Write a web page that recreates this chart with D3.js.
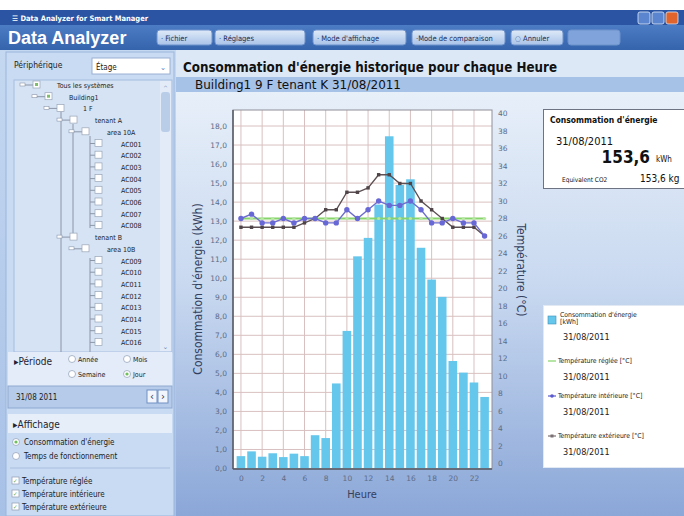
<!DOCTYPE html>
<html><head><meta charset="utf-8">
<script src="https://cdn.jsdelivr.net/npm/d3@7/dist/d3.min.js"></script>
<style>
html,body{margin:0;padding:0;background:#fff;}
svg{display:block;font-family:"DejaVu Sans Condensed","DejaVu Sans",sans-serif;}
</style></head><body>
<svg id="c" width="684" height="516"></svg>
<script>
// ---------- data ----------
const hours = d3.range(0, 24);
const hourTicks = [0,2,4,6,8,10,12,14,16,18,20,22];
const energyKWh = [0.65,0.9,0.62,0.8,0.6,0.78,0.65,1.75,1.6,4.47,7.23,11.15,12.12,13.87,17.46,14.9,15.2,11.6,9.93,9.02,5.65,5.04,4.52,3.76];
const tempSet = [28,28,28,28,28,28,28,28,28,28,28,28,28,28,28,28,28,28,28,28,28,28,28,28];
const tempInt = [28,28.5,27.5,27.5,28,27.5,28,28,27.5,27.5,29,28,29,30,29.5,29.5,30,29,27.5,27.5,28,27.5,27.5,26];
const tempExt = [27,27,27,27,27,27,27.5,28,29,29,31,31,31.5,33,33,32,32,30,29,28,27,27,27,26];
const leftTicks = d3.range(0, 19);
const rightTicks = d3.range(0, 41, 2);
const treeItems = [
  ["Tous les systèmes",0],["Building1",1],["1 F",2],["tenant A",3],["area 10A",4],
  ["AC001",5],["AC002",5],["AC003",5],["AC004",5],["AC005",5],["AC006",5],["AC007",5],["AC008",5],
  ["tenant B",3],["area 10B",4],
  ["AC009",5],["AC010",5],["AC011",5],["AC012",5],["AC013",5],["AC014",5],["AC015",5],["AC016",5]
];
const toolButtons = [["· Fichier",157,55],["·          Réglages",215,90],["· Mode d'affichage",313,93],["·Mode de comparaison",412,93],["◌ Annuler",511,52],["",568,52]];
const legendItems = [
  ["Consommation d'énergie","[kWh]","31/08/2011","bar"],
  ["Température réglée [°C]","","31/08/2011","set"],
  ["Température intérieure [°C]","","31/08/2011","int"],
  ["Température extérieure [°C]","","31/08/2011","ext"]
];

const svg = d3.select("#c");
const defs = svg.append("defs");
const g1 = defs.append("linearGradient").attr("id","bg").attr("x1",0).attr("y1",0).attr("x2",0).attr("y2",1);
g1.append("stop").attr("offset","0%").attr("stop-color","#e7eff9");
g1.append("stop").attr("offset","45%").attr("stop-color","#c9d9f0");
g1.append("stop").attr("offset","100%").attr("stop-color","#8ba7d8");
const g2 = defs.append("linearGradient").attr("id","tb").attr("x1",0).attr("y1",0).attr("x2",0).attr("y2",1);
g2.append("stop").attr("offset","0%").attr("stop-color","#4c7cc4");
g2.append("stop").attr("offset","100%").attr("stop-color","#3564ad");
const g3 = defs.append("linearGradient").attr("id","btn").attr("x1",0).attr("y1",0).attr("x2",0).attr("y2",1);
g3.append("stop").attr("offset","0%").attr("stop-color","#dfeaf8");
g3.append("stop").attr("offset","100%").attr("stop-color","#a9c3e8");
const g4 = defs.append("linearGradient").attr("id","lp").attr("x1",0).attr("y1",0).attr("x2",0).attr("y2",1);
g4.append("stop").attr("offset","0%").attr("stop-color","#c4d8f1");
g4.append("stop").attr("offset","100%").attr("stop-color","#a7c0e6");

// ---------- window chrome ----------
svg.append("rect").attr("x",0).attr("y",10).attr("width",684).attr("height",15).attr("fill","#2b55a3");
svg.append("text").attr("x",12).attr("y",21).attr("fill","#fff").attr("font-size",7.5).attr("font-weight","bold").text("☰ Data Analyzer for Smart Manager");
[[638,"#5b86cf"],[652,"#5b86cf"],[666,"#e0642c"]].forEach(([x,c])=>{
  svg.append("rect").attr("x",x).attr("y",12).attr("width",12).attr("height",12).attr("rx",2).attr("fill",c).attr("stroke","#dfe8f6").attr("stroke-width",0.8);
});
svg.append("rect").attr("x",0).attr("y",25).attr("width",684).attr("height",25).attr("fill","url(#tb)");
svg.append("text").attr("x",8).attr("y",44).attr("fill","#fff").attr("font-size",18).attr("font-weight","bold")
  .attr("font-family","Liberation Sans, Arial, sans-serif").text("Data Analyzer");
toolButtons.forEach(([t,x,w],i)=>{
  svg.append("rect").attr("x",x).attr("y",30).attr("width",w).attr("height",15).attr("rx",3)
    .attr("fill", i===5 ? "#7fa3da" : "url(#btn)").attr("stroke","#6f93cc");
  svg.append("text").attr("x",x+4).attr("y",41).attr("font-size",7.5).attr("fill","#1c2d55").text(t);
});

// ---------- left panel ----------
svg.append("rect").attr("x",0).attr("y",50).attr("width",176).attr("height",466).attr("fill","url(#lp)");
svg.append("rect").attr("x",6).attr("y",52).attr("width",168).attr("height",464).attr("fill","#c9dbf2").attr("stroke","#9bb5dc");
svg.append("text").attr("x",14).attr("y",68).attr("font-size",8.5).attr("fill","#222").text("Périphérique");
svg.append("rect").attr("x",92).attr("y",58).attr("width",78).attr("height",16).attr("fill","#fff").attr("stroke","#9ab0d4");
svg.append("text").attr("x",96).attr("y",70).attr("font-size",8).attr("fill","#222").text("Étage");
svg.append("text").attr("x",163).attr("y",70).attr("font-size",8).attr("fill","#6a86b8").attr("text-anchor","middle").text("⌄");
svg.append("rect").attr("x",14).attr("y",80).attr("width",158).attr("height",272).attr("fill","#d5e3f5").attr("stroke","#a6bddf");
svg.append("rect").attr("x",160).attr("y",81).attr("width",11).attr("height",270).attr("fill","#e2ebf7");
svg.append("rect").attr("x",161).attr("y",92).attr("width",9).attr("height",40).attr("rx",3).attr("fill","#b9cde9");
svg.append("text").attr("x",165.5).attr("y",90).attr("font-size",6).attr("text-anchor","middle").attr("fill","#6a86b8").text("^");
svg.append("text").attr("x",165.5).attr("y",349).attr("font-size",7).attr("text-anchor","middle").attr("fill","#6a86b8").text("⌄");
const tree = svg.append("g");
const boxX = [33,45,57,70,82,95];
const textX = [57,69,83,95,107,121];
// tree connectors
tree.append("line").attr("x1",61).attr("x2",61).attr("y1",112).attr("y2",352).attr("stroke","#8c96a8");
tree.append("line").attr("x1",73).attr("x2",73).attr("y1",124).attr("y2",240).attr("stroke","#8c96a8");
tree.append("line").attr("x1",90).attr("x2",90).attr("y1",136).attr("y2",228).attr("stroke","#8c96a8");
tree.append("line").attr("x1",90).attr("x2",90).attr("y1",258).attr("y2",352).attr("stroke","#8c96a8");
treeItems.forEach(([t,l],i)=>{
  const y = 85 + i*11.7;
  const bx = boxX[l];
  if (l<5) {
    tree.append("line").attr("x1",bx-11).attr("x2",bx).attr("y1",y).attr("y2",y).attr("stroke","#8c96a8");
    tree.append("rect").attr("x",bx-13).attr("y",y-2).attr("width",5).attr("height",3).attr("fill","#fff").attr("stroke","#8c96a8").attr("stroke-width",0.6);
  } else {
    tree.append("line").attr("x1",90).attr("x2",bx).attr("y1",y).attr("y2",y).attr("stroke","#8c96a8");
  }
  tree.append("rect").attr("x",bx).attr("y",y-4).attr("width",7).attr("height",7).attr("fill","#fff").attr("stroke","#9aa4b4").attr("stroke-width",0.7);
  if (l<2) tree.append("rect").attr("x",bx+2).attr("y",y-2).attr("width",3).attr("height",3).attr("fill","#7fbf6a");
  tree.append("text").attr("x",textX[l]).attr("y",y+3).attr("font-size",7).attr("fill","#222").text(t);
});
// period
svg.append("rect").attr("x",8).attr("y",352).attr("width",164).attr("height",34).attr("fill","#e3ecf8");
svg.append("text").attr("x",14).attr("y",365).attr("font-size",10).attr("fill","#223").text("▸Période");
[["Année",72,362,false],["Mois",127,362,false],["Semaine",72,377,false],["Jour",127,377,true]].forEach(([t,x,y,on])=>{
  svg.append("circle").attr("cx",x).attr("cy",y-3).attr("r",3.5).attr("fill","#fff").attr("stroke","#8d9bb3").attr("stroke-width",0.7);
  if(on) svg.append("circle").attr("cx",x).attr("cy",y-3).attr("r",1.6).attr("fill","#6fbf5a");
  svg.append("text").attr("x",x+6).attr("y",y).attr("font-size",7).attr("fill","#222").text(t);
});
svg.append("rect").attr("x",8).attr("y",386).attr("width",164).attr("height",22).attr("fill","#b6cbe9").attr("stroke","#8fa9d2");
svg.append("text").attr("x",16).attr("y",400).attr("font-size",8).attr("fill","#222").text("31/08 2011");
[[147,"‹"],[158,"›"]].forEach(([x,t])=>{
  svg.append("rect").attr("x",x).attr("y",390).attr("width",10).attr("height",13).attr("fill","#f2f6fc").attr("stroke","#6f8fc4");
  svg.append("text").attr("x",x+5).attr("y",400).attr("font-size",11).attr("text-anchor","middle").attr("fill","#335").text(t);
});
svg.append("rect").attr("x",8).attr("y",414).attr("width",164).attr("height",19).attr("fill","#e6eef9");
svg.append("text").attr("x",13).attr("y",428).attr("font-size",10).attr("fill","#223").text("▸Affichage");
[["Consommation d'énergie",445,true],["Temps de fonctionnement",459,false]].forEach(([t,y,on])=>{
  svg.append("circle").attr("cx",16).attr("cy",y-3).attr("r",3.5).attr("fill","#fff").attr("stroke","#8d9bb3").attr("stroke-width",0.7);
  if(on) svg.append("circle").attr("cx",16).attr("cy",y-3).attr("r",1.6).attr("fill","#6fbf5a");
  svg.append("text").attr("x",24).attr("y",y).attr("font-size",8).attr("fill","#222").text(t);
});
svg.append("line").attr("x1",10).attr("x2",170).attr("y1",468).attr("y2",468).attr("stroke","#a9bedf");
["Température réglée","Température intérieure","Température extérieure"].forEach((t,i)=>{
  const y = 484 + i*13;
  svg.append("rect").attr("x",12).attr("y",y-7).attr("width",7).attr("height",7).attr("fill","#fff").attr("stroke","#8d9bb3").attr("stroke-width",0.7);
  svg.append("text").attr("x",13).attr("y",y-1).attr("font-size",6).attr("fill","#5aa74a").text("✓");
  svg.append("text").attr("x",22).attr("y",y).attr("font-size",8).attr("fill","#222").text(t);
});

// ---------- main area ----------
svg.append("rect").attr("x",176).attr("y",50).attr("width",508).attr("height",27).attr("fill","#dce8f6");
svg.append("text").attr("x",183).attr("y",72).attr("font-size",14).attr("font-weight","bold").attr("fill","#111")
  .attr("textLength",374).attr("lengthAdjust","spacingAndGlyphs").text("Consommation d'énergie historique pour chaque Heure");
svg.append("rect").attr("x",176).attr("y",77).attr("width",508).attr("height",15).attr("fill","#a7c2e7");
svg.append("text").attr("x",195).attr("y",89).attr("font-size",12).attr("fill","#111")
  .attr("textLength",206).attr("lengthAdjust","spacingAndGlyphs").text("Building1 9 F tenant K  31/08/2011");
svg.append("rect").attr("x",176).attr("y",92).attr("width",508).attr("height",424).attr("fill","url(#bg)");

// scales
const x = d3.scaleLinear().domain([-0.75, 23.7]).range([233, 492]);
const yL = d3.scaleLinear().domain([0, 18]).range([468.5, 126]);
const yR = d3.scaleLinear().domain([0, 40]).range([463.5, 113.5]);
const plotTop = 110, plotBottom = 469, plotLeft = 233, plotRight = 492;

svg.append("rect").attr("x",plotLeft).attr("y",plotTop).attr("width",plotRight-plotLeft).attr("height",plotBottom-plotTop).attr("fill","#fff");
const grid = svg.append("g").attr("stroke","#d9c0c0").attr("stroke-width",1);
leftTicks.forEach(v=>grid.append("line").attr("x1",plotLeft).attr("x2",plotRight).attr("y1",yL(v)).attr("y2",yL(v)));
hourTicks.forEach(v=>grid.append("line").attr("x1",x(v)).attr("x2",x(v)).attr("y1",plotTop).attr("y2",plotBottom));

// bars
svg.append("g").selectAll("rect").data(energyKWh).join("rect")
  .attr("x",(d,i)=>x(hours[i])-4.3).attr("width",8.6)
  .attr("y",d=>yL(d)).attr("height",d=>yL(0)-yL(d)).attr("fill","#66c7ec");

// lines
const line = arr => d3.line().x((d,i)=>x(hours[i])).y(d=>yR(d))(arr);
svg.append("path").attr("d",line(tempSet)).attr("fill","none").attr("stroke","#86d46a").attr("stroke-width",2.2);
svg.append("g").selectAll("circle").data(tempSet).join("circle").attr("cx",(d,i)=>x(hours[i])).attr("cy",d=>yR(d)).attr("r",1.6).attr("fill","#b7e6a4");
svg.append("path").attr("d",line(tempExt)).attr("fill","none").attr("stroke","#5b4f52").attr("stroke-width",1.3);
svg.append("g").selectAll("rect").data(tempExt).join("rect").attr("x",(d,i)=>x(hours[i])-1.7).attr("y",d=>yR(d)-1.7).attr("width",3.4).attr("height",3.4).attr("fill","#4e4347");
svg.append("path").attr("d",line(tempInt)).attr("fill","none").attr("stroke","#6d6dce").attr("stroke-width",1.4);
svg.append("g").selectAll("circle.i").data(tempInt).join("circle").attr("cx",(d,i)=>x(hours[i])).attr("cy",d=>yR(d)).attr("r",2.7).attr("fill","#6767d6");

// frame
svg.append("rect").attr("x",plotLeft).attr("y",plotTop).attr("width",plotRight-plotLeft).attr("height",plotBottom-plotTop)
  .attr("fill","none").attr("stroke","#8f8f98").attr("stroke-width",1);
svg.append("line").attr("x1",plotLeft).attr("x2",plotLeft).attr("y1",plotTop).attr("y2",plotBottom).attr("stroke","#555a66").attr("stroke-width",1.5);
svg.append("line").attr("x1",plotLeft).attr("x2",plotRight).attr("y1",plotBottom).attr("y2",plotBottom).attr("stroke","#555a66").attr("stroke-width",1.5);

// axes
const fmt = d => d.toFixed(1).replace(".", ",");
const axL = svg.append("g").attr("transform",`translate(${plotLeft-2},0)`)
  .call(d3.axisLeft(yL).tickValues(leftTicks).tickFormat(fmt).tickSize(0).tickPadding(4));
const axR = svg.append("g").attr("transform",`translate(${plotRight+3},0)`)
  .call(d3.axisRight(yR).tickValues(rightTicks).tickFormat(d3.format("d")).tickSize(0).tickPadding(3));
const axB = svg.append("g").attr("transform",`translate(0,${plotBottom+3})`)
  .call(d3.axisBottom(x).tickValues(hourTicks).tickFormat(d3.format("d")).tickSize(0).tickPadding(4));
[axL,axR,axB].forEach(a=>{
  a.select(".domain").remove();
  a.selectAll("text").attr("font-size",7.5).attr("fill","#5d6c86").attr("font-family","DejaVu Sans, sans-serif");
});

svg.append("text").attr("transform","translate(202,289) rotate(-90)").attr("text-anchor","middle")
  .attr("font-size",12).attr("fill","#33405e").text("Consommation d'énergie (kWh)");
svg.append("text").attr("transform","translate(517,270) rotate(90)").attr("text-anchor","middle")
  .attr("font-size",12).attr("fill","#33405e").text("Température (°C)");
svg.append("text").attr("x",362).attr("y",498).attr("text-anchor","middle").attr("font-size",11).attr("fill","#33405e").text("Heure");

// info box
svg.append("rect").attr("x",543.5).attr("y",109.5).attr("width",150).attr("height",79).attr("fill","#fff").attr("stroke","#6d7382");
svg.append("text").attr("x",550).attr("y",123).attr("font-size",8.5).attr("font-weight","bold").attr("fill","#111").text("Consommation d'énergie");
svg.append("text").attr("x",556).attr("y",145).attr("font-size",11).attr("fill","#111").text("31/08/2011");
svg.append("text").attr("x",650).attr("y",163).attr("text-anchor","end").attr("font-size",17).attr("font-weight","bold").attr("fill","#111").text("153,6");
svg.append("text").attr("x",656).attr("y",162).attr("font-size",8).attr("fill","#111").text("kWh");
svg.append("text").attr("x",562).attr("y",182).attr("font-size",6.5).attr("fill","#111").text("Equivalent CO2");
svg.append("text").attr("x",640).attr("y",182).attr("font-size",10).attr("fill","#111").text("153,6 kg");

// legend box
svg.append("rect").attr("x",543.5).attr("y",305.5).attr("width",150).attr("height",162).attr("fill","#fff").attr("stroke","#e3e9f3");
const legY = [315,363,398,438];
legendItems.forEach(([t1,t2,d,k],i)=>{
  const y = legY[i];
  if (k==="bar") {
    svg.append("rect").attr("x",548).attr("y",y+1).attr("width",8).attr("height",8).attr("fill","#66c7ec").attr("stroke","#3d8fb8").attr("stroke-width",0.6);
  } else {
    const col = k==="set" ? "#86d46a" : k==="int" ? "#5b5bd0" : "#7b7073";
    svg.append("line").attr("x1",548).attr("x2",556).attr("y1",y-2).attr("y2",y-2).attr("stroke",col).attr("stroke-width",1.2);
    if (k==="int") svg.append("circle").attr("cx",552).attr("cy",y-2).attr("r",1.8).attr("fill",col);
    if (k==="ext") svg.append("rect").attr("x",550.5).attr("y",y-3.5).attr("width",3).attr("height",3).attr("fill",col);
  }
  svg.append("text").attr("x",k==="bar"?560:558).attr("y",k==="bar"? y+2 : y).attr("font-size",6.8).attr("fill","#222").text(t1);
  if (t2) svg.append("text").attr("x",560).attr("y",y+9).attr("font-size",6.8).attr("fill","#222").text(t2);
  svg.append("text").attr("x",563).attr("y",k==="bar"? y+25 : y+17).attr("font-size",9).attr("fill","#222").text(d);
});
</script>
</body></html>
